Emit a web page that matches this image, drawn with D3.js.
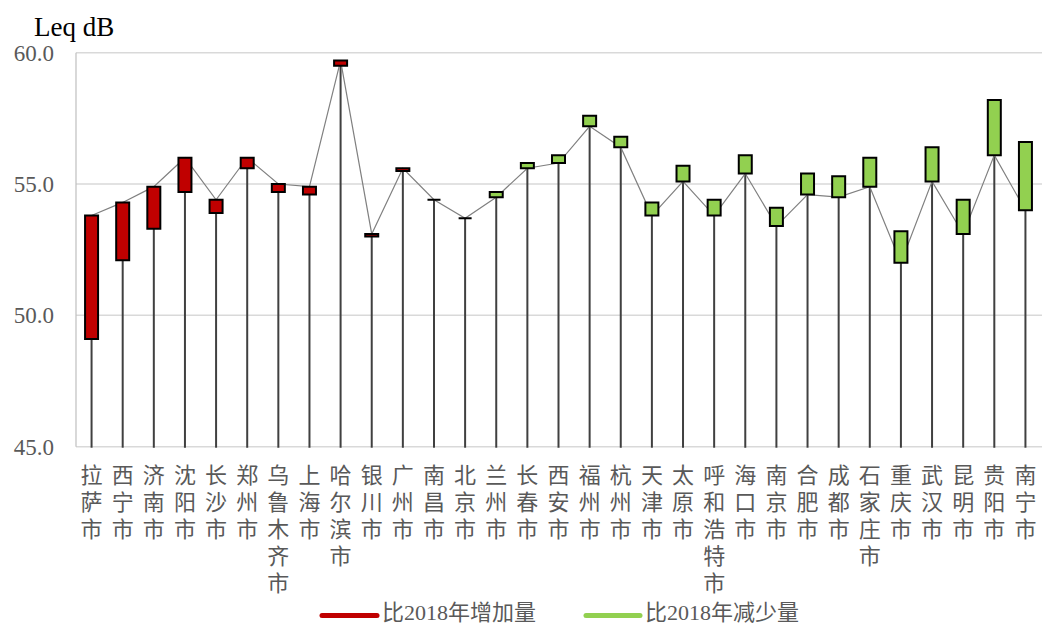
<!DOCTYPE html>
<html><head><meta charset="utf-8">
<script src="https://cdn.jsdelivr.net/npm/d3@7"></script>
<style>
html,body{margin:0;padding:0;background:#fff;}svg{display:block;}
.serif{font-family:"Liberation Serif","Times New Roman",Tinos,Times,"DejaVu Serif","Noto Serif",serif;}
.cjk{font-family:"Noto Sans CJK SC","Noto Sans CJK JP",sans-serif;}
</style>
</head><body>
<svg id="chart" width="1042" height="626"></svg>
<script>
const cities = ["拉萨市","西宁市","济南市","沈阳市","长沙市","郑州市","乌鲁木齐市","上海市","哈尔滨市","银川市","广州市","南昌市","北京市","兰州市","长春市","西安市","福州市","杭州市","天津市","太原市","呼和浩特市","海口市","南京市","合肥市","成都市","石家庄市","重庆市","武汉市","昆明市","贵阳市","南宁市"];
const leq2019 = [53.8,54.3,54.9,56.0,54.4,56.0,55.0,54.9,59.7,53.1,55.6,54.4,53.7,54.5,55.6,55.8,57.2,56.4,53.8,55.1,53.8,55.4,53.4,54.6,54.5,54.9,52.0,55.1,53.1,56.1,54.0];
const leq2018 = [49.1,52.1,53.3,54.7,53.9,55.6,54.7,54.6,59.5,53.0,55.5,54.4,53.7,54.7,55.8,56.1,57.6,56.8,54.3,55.7,54.4,56.1,54.1,55.4,55.3,56.0,53.2,56.4,54.4,58.2,56.6];
const yTicks = [45, 50, 55, 60];
const legendLabels = ["比2018年增加量", "比2018年减少量"];
const axisTitle = "Leq dB";

(function () {
const svg = d3.select("#chart");
const pLeft = 76, pRight = 1041, pTop = 52.7, pBottom = 446.7;
const x = d3.scaleBand().domain(cities).range([pLeft, pRight]).padding(0);
const y = d3.scaleLinear().domain([45, 60]).range([pBottom, pTop]);
const RED = "#C00000", GREEN = "#92D050";

svg.append("g").selectAll("line").data(yTicks).join("line")
  .attr("x1", pLeft).attr("x2", 1042)
  .attr("y1", d => y(d)).attr("y2", d => y(d))
  .attr("stroke", "#D9D9D9").attr("stroke-width", 1.5);
svg.append("line").attr("x1", pLeft).attr("x2", pLeft).attr("y1", y(60)).attr("y2", y(45))
  .attr("stroke", "#BFBFBF").attr("stroke-width", 1.2);

svg.append("g").selectAll("text").data(yTicks).join("text")
  .attr("class", "serif")
  .attr("x", 54).attr("y", d => y(d) + 8)
  .attr("text-anchor", "end").attr("font-size", 23)
  .attr("fill", "#595959").text(d => d.toFixed(1));

svg.append("text").attr("class", "serif").attr("x", 34).attr("y", 36)
  .attr("font-size", 27).attr("fill", "#000").text(axisTitle);

const cx = d => x(d) + x.bandwidth() / 2;

svg.append("g").selectAll("line").data(cities).join("line")
  .attr("x1", cx).attr("x2", cx)
  .attr("y1", (d, i) => y(leq2019[i])).attr("y2", y(45) + 1)
  .attr("stroke", "#404040").attr("stroke-width", 2);

const line = d3.line().x((d, i) => cx(cities[i])).y(d => y(d));
svg.append("path").datum(leq2019).attr("d", line)
  .attr("fill", "none").attr("stroke", "#808080").attr("stroke-width", 1.2);

const bw = 13;
svg.append("g").selectAll("path").data(cities).join("path")
  .attr("d", (d, i) => {
    const y0 = y(Math.max(leq2018[i], leq2019[i])), y1 = y(Math.min(leq2018[i], leq2019[i]));
    const x0 = cx(d) - bw / 2;
    return `M${x0},${y0}H${x0 + bw}V${y1}H${x0}Z`;
  })
  .attr("fill", (d, i) => leq2019[i] >= leq2018[i] ? RED : GREEN)
  .attr("stroke", "#000").attr("stroke-width", 2);

// vertical city labels
svg.append("g").selectAll("text").data(cities).join("text")
  .attr("class", "cjk")
  .attr("x", cx).attr("y", 464)
  .attr("font-size", 22).attr("fill", "#595959")
  .style("writing-mode", "vertical-rl")
  .style("text-orientation", "upright")
  .style("letter-spacing", "5px")
  .text(d => d);

const legend = [
  {x1: 322, x2: 377, tx: 382, color: RED, label: legendLabels[0]},
  {x1: 586, x2: 640, tx: 645, color: GREEN, label: legendLabels[1]}
];
const lg = svg.append("g").selectAll("g").data(legend).join("g");
lg.append("line").attr("x1", d => d.x1).attr("x2", d => d.x2)
  .attr("y1", 615.5).attr("y2", 615.5).attr("stroke", d => d.color)
  .attr("stroke-width", 5).attr("stroke-linecap", "round");
const lt = lg.append("text").attr("x", d => d.tx).attr("y", 619.5)
  .attr("font-size", 22).attr("fill", "#595959");
lt.each(function(d) {
  const t = d3.select(this);
  const parts = d.label.match(/[0-9]+|[^0-9]+/g);
  parts.forEach(p => t.append("tspan").attr("class", /[0-9]/.test(p) ? "serif" : "cjk").text(p));
});
})();
</script>
</body></html>
